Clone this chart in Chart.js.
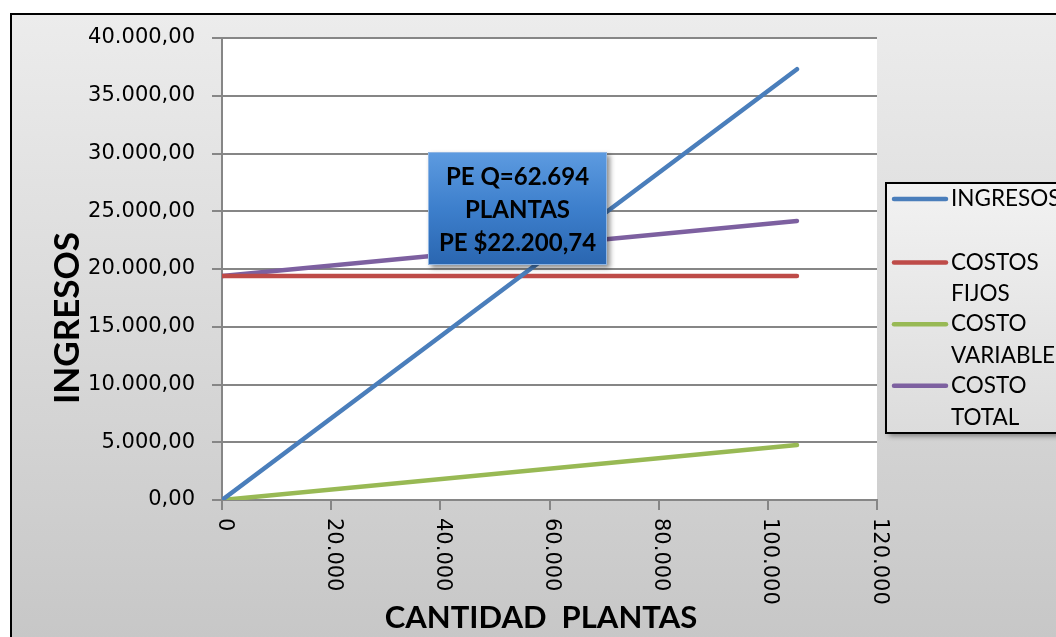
<!DOCTYPE html>
<html>
<head>
<meta charset="utf-8">
<script src="https://cdn.jsdelivr.net/npm/chart.js@4"></script>
<style>
  html, body { margin: 0; padding: 0; background: #fff; }
  #frame {
    position: absolute; left: 10px; top: 13px; width: 1060px; height: 640px;
    border: 2px solid #000;
    background: linear-gradient(#ececec, #c6c6c6);
  }
  #wrap { position: absolute; left: 0; top: 0; width: 1056px; height: 637px; overflow: hidden; }
</style>
</head>
<body>
<div id="frame"></div>
<div id="wrap"><canvas id="chart" width="1056" height="637"></canvas></div>
<script>
const cantidades = [0, 105334];
const ingresos = [0, 37300];
const costosFijos = [19400, 19400];
const costoVariable = [0, 4760];
const costoTotal = [19400, 24160];

const seriesNames = [['INGRESOS', ''], ['COSTOS', 'FIJOS'], ['COSTO', 'VARIABLE'], ['COSTO', 'TOTAL']];
const seriesColours = ['#4a7ebb', '#be4b48', '#98b954', '#7d60a0'];
const seriesValues = [ingresos, costosFijos, costoVariable, costoTotal];

const xTickStep = 20000;
const yTickStep = 5000;
const boxLines = ['PE Q=62.694', 'PLANTAS', 'PE $22.200,74'];

const fmtMiles = (v, dec) => {
    const parts = v.toFixed(dec).split('.');
    const ent = parts[0].replace(/\B(?=(\d{3})+(?!\d))/g, '.');
    return dec ? ent + ',' + parts[1] : ent;
};

const ctx = document.getElementById('chart');

const extras = {
    id: 'extras',
    beforeDraw(chart) {
        const {ctx, chartArea: a} = chart;
        ctx.save();
        ctx.fillStyle = '#fff';
        ctx.fillRect(a.left, a.top, a.right - a.left, a.bottom - a.top);
        ctx.restore();
    },
    afterDraw(chart) {
        const {ctx} = chart;
        const xs = chart.scales.x;
        ctx.save();

        // x tick labels, rotated clockwise
        ctx.fillStyle = '#000';
        ctx.font = '21px "DejaVu Sans"';
        ctx.textAlign = 'left';
        ctx.textBaseline = 'middle';
        xs.ticks.forEach(t => {
            const px = xs.getPixelForValue(t.value);
            ctx.save();
            ctx.translate(px + 2, xs.top + 18);
            ctx.rotate(Math.PI / 2);
            ctx.fillText(fmtMiles(t.value, 0), 0, 0);
            ctx.restore();
        });

        // axis titles
        ctx.font = 'bold 31px Lato';
        ctx.textAlign = 'center';
        ctx.fillText('CANTIDAD  PLANTAS', 541, 618);
        ctx.save();
        ctx.translate(68, 318);
        ctx.rotate(-Math.PI / 2);
        ctx.font = 'bold 35px Lato';
        ctx.fillText('INGRESOS', 0, 0);
        ctx.restore();

        // PE box
        const bx = 428, by = 152, bw = 179, bh = 113;
        ctx.save();
        ctx.shadowColor = 'rgba(0,0,0,0.45)';
        ctx.shadowBlur = 5;
        ctx.shadowOffsetX = 3;
        ctx.shadowOffsetY = 3;
        const g = ctx.createLinearGradient(0, by, 0, by + bh);
        g.addColorStop(0, '#5d9be0');
        g.addColorStop(0.5, '#3d7fcc');
        g.addColorStop(1, '#2a66b0');
        ctx.fillStyle = g;
        ctx.fillRect(bx, by, bw, bh);
        ctx.restore();
        ctx.strokeStyle = '#8fb5e3';
        ctx.lineWidth = 1;
        ctx.strokeRect(bx + 0.5, by + 0.5, bw - 1, bh - 1);
        ctx.fillStyle = '#000';
        ctx.font = 'bold 24px Lato';
        boxLines.forEach((s, i) => ctx.fillText(s, bx + bw / 2, by + 25 + i * 33));

        // legend
        const lx = 886, ly = 183, lw = 200, lh = 250;
        ctx.save();
        ctx.shadowColor = 'rgba(0,0,0,0.4)';
        ctx.shadowBlur = 5;
        ctx.shadowOffsetX = 3;
        ctx.shadowOffsetY = 3;
        const lg = ctx.createLinearGradient(0, ly, 0, ly + lh);
        lg.addColorStop(0, '#f2f2f2');
        lg.addColorStop(1, '#dcdcdc');
        ctx.fillStyle = lg;
        ctx.fillRect(lx, ly, lw, lh);
        ctx.restore();
        ctx.strokeStyle = '#000';
        ctx.lineWidth = 2;
        ctx.strokeRect(lx, ly, lw, lh);

        ctx.font = '22.5px Lato';
        ctx.textAlign = 'left';
        let y = 199;
        seriesNames.forEach((lines, i) => {
            ctx.strokeStyle = seriesColours[i];
            ctx.lineWidth = 4.5;
            ctx.lineCap = 'round';
            ctx.beginPath();
            ctx.moveTo(894, y);
            ctx.lineTo(946, y);
            ctx.stroke();
            ctx.fillStyle = '#000';
            lines.forEach((s, j) => ctx.fillText(s, 951, y + j * 31.5));
            y += lines.length * 31.3 - (i === 0 ? -1 : 1);
        });
        ctx.restore();
    }
};

new Chart(ctx, {
    type: 'line',
    data: {
        datasets: seriesValues.map((vals, i) => ({
            label: seriesNames[i].join(' '),
            data: cantidades.map((q, k) => ({x: q, y: vals[k]})),
            borderColor: seriesColours[i],
            backgroundColor: seriesColours[i],
            borderWidth: 4.5,
            borderCapStyle: 'round',
            pointRadius: 0,
            tension: 0
        }))
    },
    options: {
        responsive: false,
        animation: false,
        layout: {padding: {left: 0, top: 38, right: 179, bottom: 0}},
        plugins: {legend: {display: false}, tooltip: {enabled: false}},
        scales: {
            x: {
                type: 'linear',
                min: 0, max: 120000,
                ticks: {stepSize: xTickStep, display: false},
                grid: {drawOnChartArea: false, drawTicks: true, tickLength: 10, color: '#868686', lineWidth: 2},
                border: {color: '#868686', width: 2},
                afterFit: s => { s.height = 137; }
            },
            y: {
                min: 0, max: 40000,
                ticks: {
                    stepSize: yTickStep,
                    color: '#000',
                    padding: 17,
                    font: {family: 'DejaVu Sans', size: 21},
                    callback: v => fmtMiles(v, 2)
                },
                grid: {color: '#868686', lineWidth: 2, tickLength: 10},
                border: {color: '#868686', width: 2},
                afterFit: s => { s.width = 222; }
            }
        }
    },
    plugins: [extras]
});
</script>
</body>
</html>
